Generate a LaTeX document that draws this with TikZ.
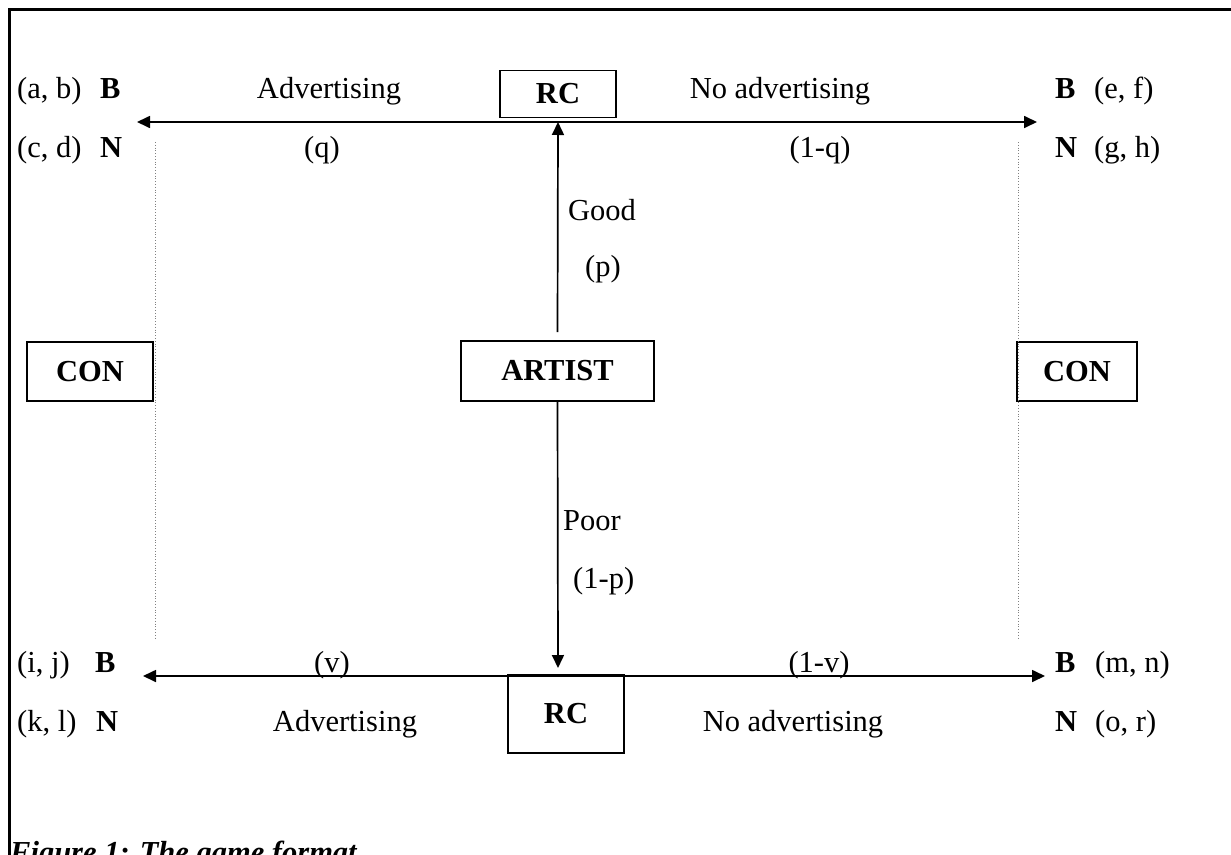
\documentclass[tikz,border=0pt]{standalone}
\usepackage{fontspec}
\setmainfont{Liberation Serif}
\usetikzlibrary{arrows.meta}

\newcommand*{\fsz}{\fontsize{30.5}{36}\selectfont}
\newcommand*{\rowA}{98}
\newcommand*{\rowB}{157}
\newcommand*{\rowC}{672}
\newcommand*{\rowD}{731}

\begin{document}
\begin{tikzpicture}
[
	x=1pt,y=-1pt,
	box/.style={draw,line width=1.6pt,inner sep=0pt,font=\fsz\bfseries},
	lbl/.style={inner sep=0pt,font=\fsz,anchor=base},
	lblw/.style={lbl,anchor=base west},
	branch/.style={line width=1.7pt,-{Triangle[length=13pt,width=12pt]}},
	twoway/.style={line width=1.7pt,{Triangle[length=13pt,width=12pt]}-{Triangle[length=13pt,width=12pt]}},
	sep/.style={dotted,gray,line width=0.8pt}
]

	\clip (0,0) rectangle (1231,854);

	% frame
	\draw[line width=3pt] (9,860) -- (9,9) -- (1240,9);

	% boxes
	\node[box,minimum width=116pt,minimum height=47pt] (rctop) at (558,94) {RC};
	\node[box,minimum width=116pt,minimum height=78pt] (rcbot) at (566,714) {RC};
	\node[box,minimum width=193pt,minimum height=60pt] (artist) at (557.5,371) {ARTIST};
	\node[box,minimum width=126pt,minimum height=59pt] (conl) at (90,371.5) {CON};
	\node[box,minimum width=120pt,minimum height=59pt] (conr) at (1077,371.5) {CON};

	% ends of the branches
	\coordinate (tl) at (137,122);
	\coordinate (tr) at (1037,122);
	\coordinate (tm) at (558,122);
	\coordinate (bl) at (143,676);
	\coordinate (br) at (1045,676);
	\coordinate (bm) at (558,668);

	\draw[twoway] (tl) -- (tr);
	\draw[twoway] (bl) -- (br);
	\draw[branch] ([yshift=8pt]artist.north) -- (tm);
	\draw[branch] (artist.south) -- (bm);

	% information sets
	\draw[sep] (155,142) -- (155,640);
	\draw[sep] (1018,142) -- (1018,640);

	% payoffs, left
	\node[lblw] (ab) at (17,\rowA) {(a, b)};
	\node[lblw] (abB) at (100,\rowA) {\textbf{B}};
	\node[lblw] (cd) at (17,\rowB) {(c, d)};
	\node[lblw] (cdN) at (100,\rowB) {\textbf{N}};
	\node[lblw] (ij) at (17,\rowC) {(i, j)};
	\node[lblw] (ijB) at (95,\rowC) {\textbf{B}};
	\node[lblw] (kl) at (17,\rowD) {(k, l)};
	\node[lblw] (klN) at (96,\rowD) {\textbf{N}};

	% payoffs, right
	\node[lblw] (efB) at (1055,\rowA) {\textbf{B}};
	\node[lblw] (ef) at (1094,\rowA) {(e, f)};
	\node[lblw] (ghN) at (1055,\rowB) {\textbf{N}};
	\node[lblw] (gh) at (1094,\rowB) {(g, h)};
	\node[lblw] (mnB) at (1055,\rowC) {\textbf{B}};
	\node[lblw] (mn) at (1095,\rowC) {(m, n)};
	\node[lblw] (orN) at (1055,\rowD) {\textbf{N}};
	\node[lblw] (or) at (1095,\rowD) {(o, r)};

	% moves
	\node[lbl] (adtop) at (329,\rowA) {Advertising};
	\node[lbl] (q) at (322,\rowB) {(q)};
	\node[lbl] (noadtop) at (780,\rowA) {No advertising};
	\node[lbl] (q1) at (820,\rowB) {(1-q)};
	\node[lblw] (good) at (568,220) {Good};
	\node[lblw] (p) at (585,276) {(p)};
	\node[lblw] (poor) at (563,530) {Poor};
	\node[lblw] (p1) at (573,588) {(1-p)};
	\node[lbl] (v) at (332,\rowC) {(v)};
	\node[lbl] (adbot) at (345,\rowD) {Advertising};
	\node[lbl] (v1) at (819,\rowC) {(1-v)};
	\node[lbl] (noadbot) at (793,\rowD) {No advertising};

	\node[lblw,font=\fsz\bfseries\itshape] (caption) at (10,862) {Figure 1: The game format};

\end{tikzpicture}
\end{document}
